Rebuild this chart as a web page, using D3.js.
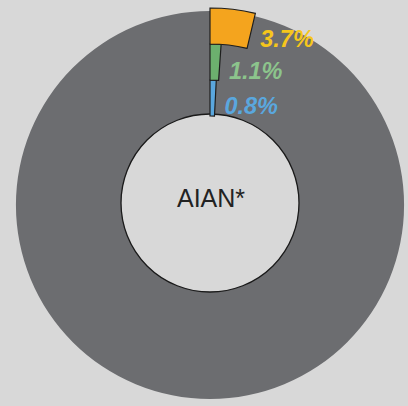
<!DOCTYPE html>
<html>
<head>
<meta charset="utf-8">
<script src="https://cdn.jsdelivr.net/npm/d3@7"></script>
<style>
  body { margin: 0; background: #d8d8d8; }
  svg { display: block; }
</style>
</head>
<body>
<svg id="chart"></svg>
<script>
// share of group (percent), drawn from 12 o'clock clockwise
const groups = ['a', 'b', 'c'];
const values = [0.8, 1.1, 3.7];
const valueLabels = ['0.8%', '1.1%', '3.7%'];
const centerLabel = 'AIAN*';
const total = 100;

const width = 408,
  height = 406,
  cx = 210,
  cy = 205,
  outerR = 194,
  holeR = 89,
  bandOuter = 197;

const svg = d3.select('#chart')
  .attr('width', width)
  .attr('height', height);

const g = svg.append('g')
  .attr('transform', 'translate(' + cx + ',' + cy + ')');

var angle = d3.scaleLinear()
  .domain([0, total])
  .range([0, 2 * Math.PI]);

var band = d3.scaleBand()
  .domain(groups)
  .range([holeR, bandOuter]);

var fill = d3.scaleOrdinal()
  .domain(groups)
  .range(['#5aa7de', '#6cb06e', '#f4a41e']);

var labelFill = d3.scaleOrdinal()
  .domain(groups)
  .range(['#5aa7de', '#8cc48c', '#f6c61c']);

var arc = d3.arc();

// remainder ring
g.append('path')
  .attr('d', arc({innerRadius: 0, outerRadius: outerR, startAngle: angle(0), endAngle: angle(total)}))
  .style('fill', '#6c6d70');

// hole
g.append('circle')
  .attr('cy', -2)
  .attr('r', holeR)
  .style('fill', '#d8d8d8')
  .style('stroke', '#1a1a1a')
  .style('stroke-width', 1.3);

const data = groups.map((k, i) => ({key: k, value: values[i], label: valueLabels[i]}));

g.selectAll('path.slice')
  .data(data)
  .enter()
  .append('path')
  .attr('class', 'slice')
  .attr('d', d => arc({
    innerRadius: band(d.key),
    outerRadius: band(d.key) + band.bandwidth(),
    startAngle: angle(0),
    endAngle: angle(d.value)
  }))
  .style('fill', d => fill(d.key))
  .style('stroke', '#1e1e1e')
  .style('stroke-width', 1.2);

g.selectAll('text.pct')
  .data(data)
  .enter()
  .append('text')
  .attr('class', 'pct')
  .attr('x', d => (band(d.key) + band.bandwidth() / 2) * Math.sin(angle(d.value)) + 9)
  .attr('y', d => -(band(d.key) + band.bandwidth() / 2) * Math.cos(angle(d.value)) + 10)
  .attr('dominant-baseline', 'middle')
  .style('font-family', '"Liberation Sans", Arial, sans-serif')
  .style('font-weight', 'bold')
  .style('font-style', 'italic')
  .style('font-size', '23.5px')
  .style('fill', d => labelFill(d.key))
  .text(d => d.label);

g.append('text')
  .attr('x', 1)
  .attr('y', -5)
  .attr('text-anchor', 'middle')
  .attr('dominant-baseline', 'middle')
  .style('font-family', '"Liberation Sans", Arial, sans-serif')
  .style('font-size', '25px')
  .style('fill', '#222')
  .text(centerLabel);
</script>
</body>
</html>
